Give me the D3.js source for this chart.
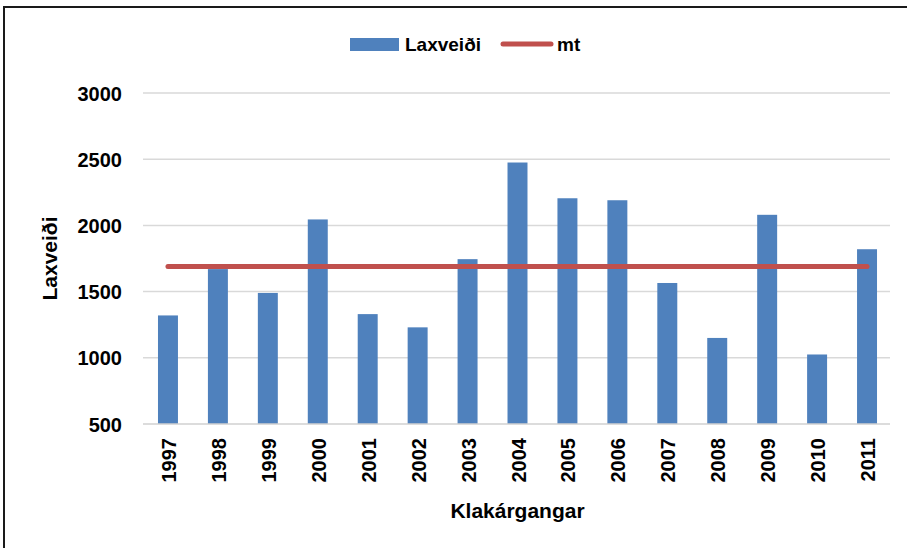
<!DOCTYPE html>
<html>
<head>
<meta charset="utf-8">
<script src="https://cdn.jsdelivr.net/npm/d3@7"></script>
<style>
  body { margin: 0; background: #fff; }
  svg text { font-family: "Liberation Sans", Arial, sans-serif; font-weight: bold; fill: #000; }
</style>
</head>
<body>
<div id="chart"></div>
<script>
// chart data
const years = ["1997", "1998", "1999", "2000", "2001", "2002", "2003", "2004",
               "2005", "2006", "2007", "2008", "2009", "2010", "2011"];
const laxveidi = [1320, 1670, 1490, 2045, 1330, 1230, 1745, 2475,
                  2205, 2190, 1565, 1150, 2080, 1025, 1820];
const mt = [1690, 1690, 1690, 1690, 1690, 1690, 1690, 1690,
            1690, 1690, 1690, 1690, 1690, 1690, 1690];
const yTicks = [500, 1000, 1500, 2000, 2500, 3000];

const W = 907, H = 548;
const margin = { top: 93, right: 15, bottom: 124, left: 143 };

const svg = d3.select("#chart").append("svg")
    .attr("width", W)
    .attr("height", H);

// outer chart frame (runs off the right and bottom edges)
svg.append("rect")
    .attr("x", 4).attr("y", 7)
    .attr("width", 920).attr("height", 560)
    .style("fill", "none")
    .style("stroke", "#1a1a1a")
    .style("stroke-width", 2);

const x = d3.scaleBand()
    .domain(years)
    .range([margin.left, W - margin.right])
    .paddingInner(0.6)
    .paddingOuter(0.3);

const y = d3.scaleLinear()
    .domain([500, 3000])
    .range([H - margin.bottom, margin.top]);

// gridlines
svg.append("g")
    .selectAll("line")
    .data(yTicks.slice(1))
    .enter().append("line")
    .attr("x1", margin.left)
    .attr("x2", W - margin.right - 2)
    .attr("y1", d => y(d))
    .attr("y2", d => y(d))
    .style("stroke", "#d9d9d9")
    .style("stroke-width", 1.5);

// y axis labels
const yAxis = svg.append("g")
    .attr("transform", `translate(${margin.left},0)`)
    .call(d3.axisLeft(y).tickValues(yTicks).tickSize(0).tickPadding(21).tickFormat(d3.format("d")));
yAxis.select(".domain").remove();
yAxis.selectAll("text").style("font-size", "20px").attr("dy", "0.35em");

// bars
svg.append("g")
    .selectAll("rect")
    .data(years)
    .enter().append("rect")
    .attr("x", d => x(d))
    .attr("width", x.bandwidth())
    .attr("y", (d, i) => y(laxveidi[i]))
    .attr("height", (d, i) => y(500) - y(laxveidi[i]))
    .style("fill", "#4f81bd");

// x axis
const xAxis = svg.append("g")
    .attr("transform", `translate(0,${y(500)})`)
    .call(d3.axisBottom(x).tickSize(0));
xAxis.select(".domain")
    .attr("d", `M${margin.left},0H${W - margin.right - 2}`)
    .style("stroke", "#d0d0d0")
    .style("stroke-width", 1.5);
xAxis.selectAll("text")
    .style("font-size", "20px")
    .attr("text-anchor", "end")
    .attr("transform", "rotate(-90)")
    .attr("x", -14)
    .attr("y", 1)
    .attr("dy", "0.35em");

// mean line
const line = d3.line()
    .x((d, i) => x(years[i]) + x.bandwidth() / 2)
    .y(d => y(d));
svg.append("path")
    .datum(mt)
    .attr("d", line)
    .style("fill", "none")
    .style("stroke", "#c0504d")
    .style("stroke-width", 5)
    .style("stroke-linecap", "round");

// axis titles
svg.append("text")
    .attr("x", (margin.left + W - margin.right) / 2)
    .attr("y", 518)
    .attr("text-anchor", "middle")
    .style("font-size", "21px")
    .text("Klakárgangar");

svg.append("text")
    .attr("transform", `translate(57,${(y(500) + y(3000)) / 2}) rotate(-90)`)
    .attr("text-anchor", "middle")
    .style("font-size", "21px")
    .text("Laxveiði");

// legend
const legend = svg.append("g");
legend.append("rect")
    .attr("x", 350).attr("y", 38)
    .attr("width", 49).attr("height", 13)
    .style("fill", "#4f81bd");
legend.append("text")
    .attr("x", 405).attr("y", 51)
    .style("font-size", "19px")
    .text("Laxveiði");
legend.append("line")
    .attr("x1", 503).attr("x2", 551)
    .attr("y1", 44).attr("y2", 44)
    .style("stroke", "#c0504d")
    .style("stroke-width", 5)
    .style("stroke-linecap", "round");
legend.append("text")
    .attr("x", 557).attr("y", 51)
    .style("font-size", "19px")
    .text("mt");
</script>
</body>
</html>
